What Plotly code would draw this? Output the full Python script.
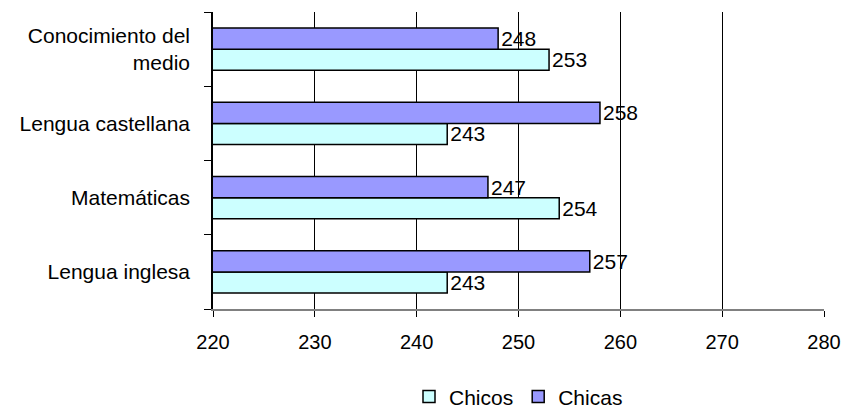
import plotly.graph_objects as go

categories = ["Lengua inglesa", "Matemáticas", "Lengua castellana", "Conocimiento del<br>medio"]
chicos = [243, 254, 243, 253]
chicas = [257, 247, 258, 248]
x_ticks = [220, 230, 240, 250, 260, 270, 280]

FONT = dict(family="Liberation Sans, Arial, sans-serif", size=21, color="black")
XFONT = dict(family="Liberation Sans, Arial, sans-serif", size=20, color="black")

fig = go.Figure()
fig.add_trace(go.Bar(
    y=categories, x=chicos, orientation="h", name="Chicos",
    marker=dict(color="#CCFFFF", line=dict(color="black", width=1.5)),
    text=[str(v) for v in chicos], textposition="outside", constraintext="none",
    textfont=FONT, cliponaxis=False,
))
fig.add_trace(go.Bar(
    y=categories, x=chicas, orientation="h", name="Chicas",
    marker=dict(color="#9999FF", line=dict(color="black", width=1.5)),
    text=[str(v) for v in chicas], textposition="outside", constraintext="none",
    textfont=FONT, cliponaxis=False,
))

fig.update_layout(
    width=843, height=412,
    margin=dict(l=213, r=19, t=12, b=103, autoexpand=False),
    paper_bgcolor="white", plot_bgcolor="white",
    font=FONT,
    barmode="group", bargap=0.43, bargroupgap=0,
    showlegend=True,
    legend=dict(orientation="h", x=0.5, xanchor="center", y=-0.296, yanchor="middle",
                font=FONT, itemwidth=30, traceorder="normal"),
)
fig.update_xaxes(
    range=[220, 280], tickvals=x_ticks, ticktext=[str(v) for v in x_ticks],
    showgrid=True, gridcolor="black", gridwidth=1,
    showline=True, linecolor="#808080", linewidth=1.5,
    ticks="outside", ticklen=6, tickcolor="black",
    ticklabelstandoff=8, zeroline=False, tickfont=XFONT, automargin=False,
)
fig.update_yaxes(
    showline=True, linecolor="black", linewidth=1.5,
    ticks="outside", ticklen=7, tickcolor="black", tickson="boundaries",
    showgrid=False, ticklabelstandoff=17, tickfont=FONT, automargin=False,
)

# remove the default 8px page margin so the figure fills the window exactly
fig.write_html("out.html", config={"displayModeBar": False},
               post_script="document.body.style.margin='0';")
